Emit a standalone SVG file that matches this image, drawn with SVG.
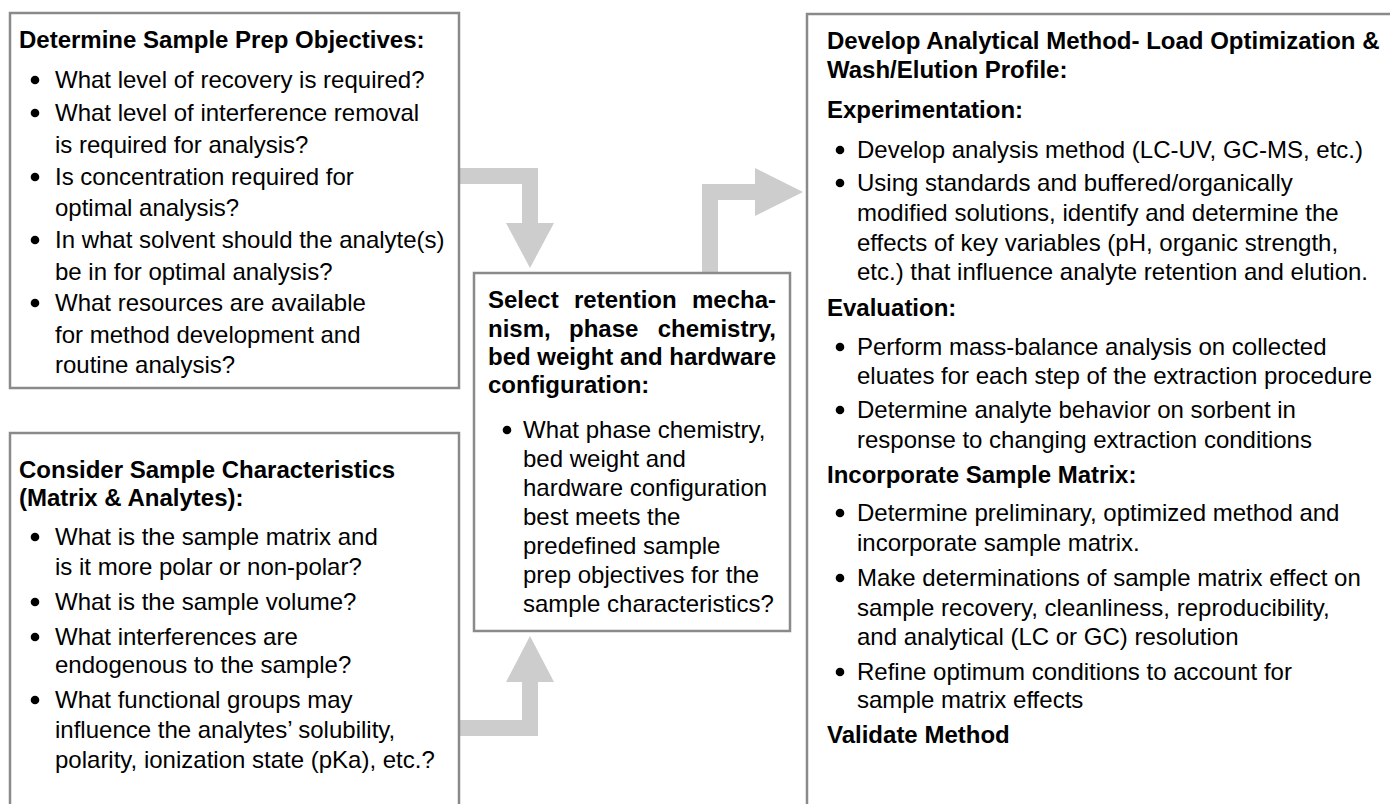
<svg xmlns="http://www.w3.org/2000/svg" width="1390" height="804" viewBox="0 0 1390 804">
<style>
.box{fill:#fff;stroke:#8a8a8a;stroke-width:2.5}
.arrow{fill:#cdcdcd;stroke:none}
text{font-family:"Liberation Sans",Arial,Helvetica,sans-serif;font-size:24px;fill:#000}
.b{font-weight:bold}
.dot{fill:#000}
</style>
<rect width="1390" height="804" fill="#fff"/>
<g id="connectors">
<path class="arrow" d="M459,168 L538,168 L538,223 L554,223 L530,268 L506,223 L522,223 L522,184 L459,184 Z"/>
<path class="arrow" d="M459,736 L538,736 L538,682 L554,682 L530,636 L506,682 L522,682 L522,720 L459,720 Z"/>
<path class="arrow" d="M702,273 L702,184 L755,184 L755,168 L803,192 L755,216 L755,200 L718,200 L718,273 Z"/>
</g>
<g id="objectives">
<rect class="box" x="10" y="13" width="449" height="375"/>
<text class="b" x="19" y="48">Determine Sample Prep Objectives:</text>
<circle class="dot" cx="35" cy="80" r="4.3"/>
<circle class="dot" cx="35" cy="113" r="4.3"/>
<circle class="dot" cx="35" cy="177" r="4.3"/>
<circle class="dot" cx="35" cy="240" r="4.3"/>
<circle class="dot" cx="35" cy="303" r="4.3"/>
<text x="55" y="88">What level of recovery is required?</text>
<text x="55" y="121">What level of interference removal</text>
<text x="55" y="153">is required for analysis?</text>
<text x="55" y="185">Is concentration required for</text>
<text x="55" y="216">optimal analysis?</text>
<text x="55" y="248">In what solvent should the analyte(s)</text>
<text x="55" y="280">be in for optimal analysis?</text>
<text x="55" y="311">What resources are available</text>
<text x="55" y="343">for method development and</text>
<text x="55" y="373">routine analysis?</text>
</g>
<g id="characteristics">
<rect class="box" x="10" y="433" width="449" height="420"/>
<text class="b" x="19" y="478">Consider Sample Characteristics</text>
<text class="b" x="19" y="506">(Matrix &amp; Analytes):</text>
<circle class="dot" cx="35" cy="537" r="4.3"/>
<circle class="dot" cx="35" cy="602" r="4.3"/>
<circle class="dot" cx="35" cy="637" r="4.3"/>
<circle class="dot" cx="35" cy="700" r="4.3"/>
<text x="55" y="545">What is the sample matrix and</text>
<text x="55" y="575">is it more polar or non-polar?</text>
<text x="55" y="610">What is the sample volume?</text>
<text x="55" y="645">What interferences are</text>
<text x="55" y="673">endogenous to the sample?</text>
<text x="55" y="708">What functional groups may</text>
<text x="55" y="738">influence the analytes’ solubility,</text>
<text x="55" y="768">polarity, ionization state (pKa), etc.?</text>
</g>
<g id="select">
<rect class="box" x="474" y="273" width="316" height="358"/>
<text class="b" x="488" y="308">Select</text>
<text class="b" x="574" y="308">retention</text>
<text class="b" x="776" y="308" text-anchor="end">mecha-</text>
<text class="b" x="488" y="337">nism,</text>
<text class="b" x="569" y="337">phase</text>
<text class="b" x="776" y="337" text-anchor="end">chemistry,</text>
<text class="b" x="488" y="365">bed weight and hardware</text>
<text class="b" x="488" y="393">configuration:</text>
<circle class="dot" cx="507" cy="430" r="4.3"/>
<text x="523" y="438">What phase chemistry,</text>
<text x="523" y="467">bed weight and</text>
<text x="523" y="496">hardware configuration</text>
<text x="523" y="525">best meets the</text>
<text x="523" y="554">predefined sample</text>
<text x="523" y="583">prep objectives for the</text>
<text x="523" y="612">sample characteristics?</text>
</g>
<g id="develop">
<rect class="box" x="807" y="14" width="640" height="840"/>
<text class="b" x="827" y="49">Develop Analytical Method- Load Optimization &amp;</text>
<text class="b" x="827" y="78">Wash/Elution Profile:</text>
<text class="b" x="827" y="118">Experimentation:</text>
<circle class="dot" cx="840" cy="150" r="4.3"/>
<circle class="dot" cx="840" cy="183" r="4.3"/>
<text x="857" y="158">Develop analysis method (LC-UV, GC-MS, etc.)</text>
<text x="857" y="191">Using standards and buffered/organically</text>
<text x="857" y="221">modified solutions, identify and determine the</text>
<text x="857" y="251">effects of key variables (pH, organic strength,</text>
<text x="857" y="280">etc.) that influence analyte retention and elution.</text>
<text class="b" x="827" y="316">Evaluation:</text>
<circle class="dot" cx="840" cy="347" r="4.3"/>
<circle class="dot" cx="840" cy="410" r="4.3"/>
<text x="857" y="355">Perform mass-balance analysis on collected</text>
<text x="857" y="384">eluates for each step of the extraction procedure</text>
<text x="857" y="418">Determine analyte behavior on sorbent in</text>
<text x="857" y="448">response to changing extraction conditions</text>
<text class="b" x="827" y="483">Incorporate Sample Matrix:</text>
<circle class="dot" cx="840" cy="513" r="4.3"/>
<circle class="dot" cx="840" cy="578" r="4.3"/>
<circle class="dot" cx="840" cy="672" r="4.3"/>
<text x="857" y="521">Determine preliminary, optimized method and</text>
<text x="857" y="551">incorporate sample matrix.</text>
<text x="857" y="586">Make determinations of sample matrix effect on</text>
<text x="857" y="616">sample recovery, cleanliness, reproducibility,</text>
<text x="857" y="645">and analytical (LC or GC) resolution</text>
<text x="857" y="680">Refine optimum conditions to account for</text>
<text x="857" y="708">sample matrix effects</text>
<text class="b" x="827" y="743">Validate Method</text>
</g>
</svg>
